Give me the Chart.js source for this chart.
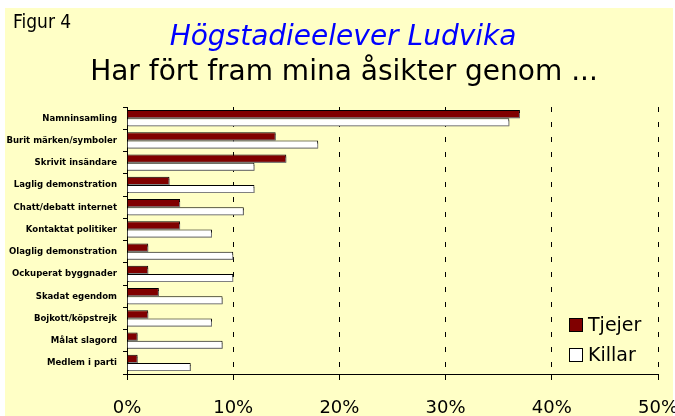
<!DOCTYPE html>
<html>
<head>
<meta charset="utf-8">
<script src="https://cdn.jsdelivr.net/npm/chart.js@4/dist/chart.umd.min.js"></script>
<style>
  html, body { margin: 0; padding: 0; background: #ffffff; }
  #wrap { position: relative; width: 675px; height: 416px; }
  canvas { display: block; }
</style>
</head>
<body>
<div id="wrap"><canvas id="c" width="675" height="416"></canvas></div>
<script>
const categories = [
  "Namninsamling", "Burit märken/symboler", "Skrivit insändare", "Laglig demonstration",
  "Chatt/debatt internet", "Kontaktat politiker", "Olaglig demonstration", "Ockuperat byggnader",
  "Skadat egendom", "Bojkott/köpstrejk", "Målat slagord", "Medlem i parti"
];
const tjejer = [37, 14, 15, 4, 5, 5, 2, 2, 3, 2, 1, 1];
const killar = [36, 18, 12, 12, 11, 8, 10, 10, 9, 8, 9, 6];
const xTicks = [0, 10, 20, 30, 40, 50];
const figLabel = "Figur 4";
const titleText = "Högstadieelever Ludvika";
const subtitleText = "Har fört fram mina åsikter genom ...";

const BG = '#FFFFC6';
const FONT = '"DejaVu Sans", sans-serif';
const CFONT = '"DejaVu Sans Condensed", "DejaVu Sans", sans-serif';

const bgPlugin = {
  id: 'bg',
  beforeDraw(chart) {
    const ctx = chart.ctx;
    ctx.save();
    ctx.fillStyle = BG;
    ctx.fillRect(5, 8, 668, 408);
    ctx.restore();
  }
};

const shadowPlugin = {
  id: 'barShadow',
  beforeDatasetDraw(chart) {
    const ctx = chart.ctx;
    ctx.save();
    ctx.shadowColor = '#808080';
    ctx.shadowOffsetX = 1;
    ctx.shadowOffsetY = 2;
    ctx.shadowBlur = 0;
  },
  afterDatasetDraw(chart) {
    chart.ctx.restore();
  }
};

const textPlugin = {
  id: 'texts',
  afterDraw(chart) {
    const ctx = chart.ctx;
    ctx.save();
    ctx.textBaseline = 'alphabetic';
    ctx.fillStyle = '#000';
    ctx.textAlign = 'left';
    ctx.font = '19px "Liberation Sans Narrow", "DejaVu Sans Condensed", sans-serif';
    ctx.fillText(figLabel, 13, 28);
    ctx.textAlign = 'center';
    ctx.fillStyle = '#0000FF';
    ctx.font = 'italic 28px ' + FONT;
    ctx.fillText(titleText, 343, 45);
    ctx.fillStyle = '#000';
    ctx.font = '28px ' + FONT;
    ctx.fillText(subtitleText, 344, 80);
    // legend
    const items = chart.data.datasets;
    ctx.font = '19px ' + FONT;
    ctx.textAlign = 'left';
    ctx.textBaseline = 'middle';
    items.forEach((ds, i) => {
      const y = 318 + i * 30;
      ctx.fillStyle = ds.backgroundColor;
      ctx.fillRect(569.5, y + 0.5, 13, 13);
      ctx.strokeStyle = '#000';
      ctx.lineWidth = 1;
      ctx.strokeRect(569.5, y + 0.5, 13, 13);
      ctx.fillStyle = '#000';
      ctx.fillText(ds.label, 588, y + 8);
    });
    ctx.restore();
  }
};

new Chart(document.getElementById('c'), {
  type: 'bar',
  data: {
    labels: categories,
    datasets: [
      { label: 'Tjejer', data: tjejer, backgroundColor: '#800000', borderColor: '#000', borderWidth: 1,
        categoryPercentage: 0.74, barPercentage: 1.0 },
      { label: 'Killar', data: killar, backgroundColor: '#FFFFFF', borderColor: '#000', borderWidth: 1,
        categoryPercentage: 0.74, barPercentage: 1.0 }
    ]
  },
  options: {
    indexAxis: 'y',
    responsive: false,
    animation: false,
    devicePixelRatio: 1,
    layout: { padding: { top: 107, right: 17, left: 0, bottom: 0 } },
    plugins: { legend: { display: false }, tooltip: { enabled: false }, title: { display: false } },
    scales: {
      x: {
        min: 0, max: 50,
        afterBuildTicks(scale) { scale.ticks = xTicks.map(v => ({ value: v })); },
        afterFit(scale) { scale.height = 42; scale.paddingLeft = 0; scale.paddingRight = 0; },
        ticks: {
          color: '#000',
          font: { family: FONT, size: 18 },
          padding: 18,
          maxRotation: 0,
          callback: v => v + '%'
        },
        grid: {
          color: '#000',
          lineWidth: 1,
          drawTicks: true,
          tickLength: 6,
          tickBorderDash: [],
          tickColor: '#000'
        },
        border: { display: true, color: '#000', width: 1, dash: [5, 10] }
      },
      y: {
        afterFit(scale) { scale.width = 127; scale.paddingTop = 0; scale.paddingBottom = 0; },
        ticks: {
          color: '#000',
          font: { family: CFONT, size: 9.5, weight: 'bold' },
          padding: 6,
          autoSkip: false
        },
        grid: {
          offset: true,
          drawOnChartArea: false,
          drawTicks: true,
          tickLength: 4,
          color: '#000'
        },
        border: { display: true, color: '#000', width: 1 }
      }
    }
  },
  plugins: [bgPlugin, shadowPlugin, textPlugin]
});
</script>
</body>
</html>
